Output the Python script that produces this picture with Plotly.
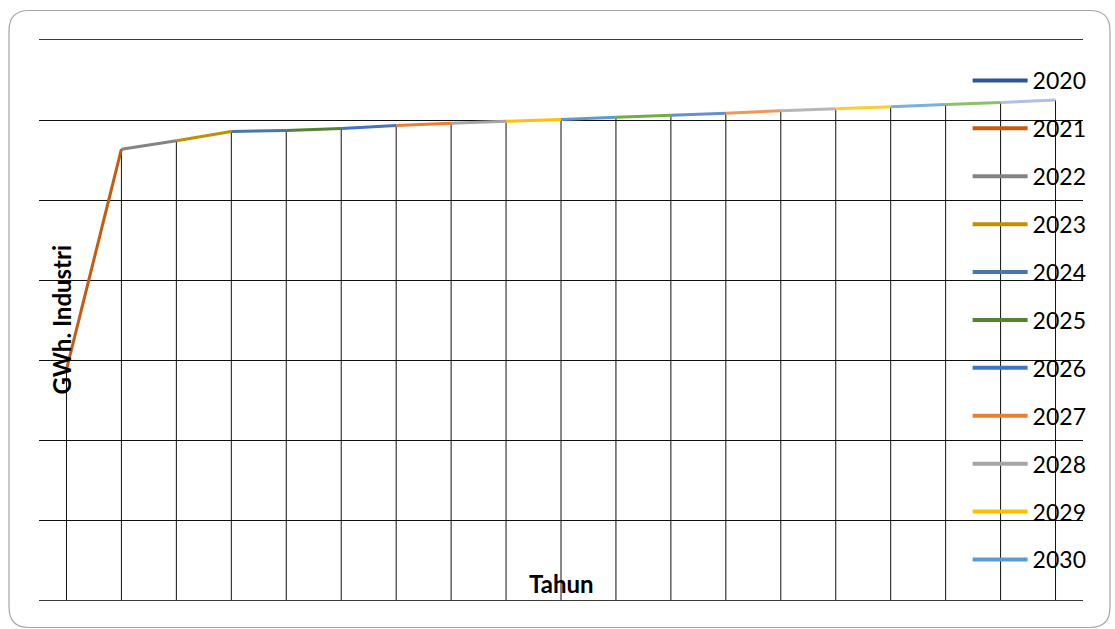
import plotly.graph_objects as go

# ---------------- data ----------------
years = list(range(2020, 2039))
gwh = [2880, 5635, 5740, 5855, 5870, 5895, 5930, 5960, 5985, 6005,
       6035, 6060, 6085, 6115, 6140, 6165, 6195, 6220, 6250]
point_colors = ["#2F5597", "#C55A11", "#848484", "#BF9000", "#4677A8", "#548235",
                "#4472C4", "#ED7D31", "#A5A5A5", "#FFC000", "#5B9BD5", "#70AD47",
                "#698ED0", "#F1975A", "#B7B7B7", "#FFCD33", "#7CAFDD", "#8CC168",
                "#AFBFE6"]
legend_years = years[:11]
y_title = "GWh. Industri"
x_title = "Tahun"

# ---------------- layout geometry (px) ----------------
W, H = 1115, 629
L, R, T, B = 38.5, 1083.5, 40, 600


def fx(px):
    return (px - L) / (R - L)


def fy(py):
    return (B - py) / (B - T)


fig = go.Figure()

# drop lines from each point to the base
dx, dy = [], []
for yr, v in zip(years, gwh):
    dx += [yr, yr, None]
    dy += [0, v, None]
fig.add_trace(go.Scatter(x=dx, y=dy, mode="lines", showlegend=False,
                         line=dict(color="#111111", width=1), hoverinfo="skip"))

# segments, coloured by the end point
for i in range(len(years) - 1):
    fig.add_trace(go.Scatter(x=years[i:i + 2], y=gwh[i:i + 2], mode="lines",
                             showlegend=False,
                             line=dict(color=point_colors[i + 1], width=3)))

# legend entries
for k, yr in enumerate(legend_years):
    fig.add_trace(go.Scatter(x=[None], y=[None], mode="lines", name=str(yr),
                             legendgroup=str(yr),
                             line=dict(color=point_colors[k], width=4)))

lft, rgt, top, bot, r = 8.5, 1110.5, 10.5, 627.5, 20
pts = [
    ("M", (lft + r, top)), ("L", (rgt - r, top)), ("Q", (rgt, top), (rgt, top + r)),
    ("L", (rgt, bot - r)), ("Q", (rgt, bot), (rgt - r, bot)), ("L", (lft + r, bot)),
    ("Q", (lft, bot), (lft, bot - r)), ("L", (lft, top + r)), ("Q", (lft, top), (lft + r, top)),
]
parts = []
for p in pts:
    coords = " ".join(f"{fx(a):.5f},{fy(b):.5f}" for a, b in p[1:])
    parts.append(f"{p[0]}{coords}")
shape_path = " ".join(parts) + " Z"

fig.add_shape(type="path", path=shape_path, xref="paper", yref="paper",
              line=dict(color="#A6A6A6", width=1.2), layer="below")

fig.add_annotation(text=f"<b>{y_title}</b>", xref="paper", yref="paper",
                   x=fx(61), y=fy(319), xanchor="center", yanchor="middle",
                   textangle=-90, showarrow=False,
                   font=dict(family="Lato", size=24, color="#000000"))
fig.add_annotation(text=f"<b>{x_title}</b>", xref="paper", yref="paper",
                   x=fx(562), y=fy(583), xanchor="center", yanchor="middle",
                   showarrow=False,
                   font=dict(family="Lato", size=24, color="#000000"))

fig.update_layout(
    width=W, height=H,
    margin=dict(l=L, r=W - R, t=T, b=H - B, pad=0),
    paper_bgcolor="white", plot_bgcolor="white",
    font=dict(family="Lato", color="#000000"),
    showlegend=True,
    legend=dict(x=fx(968), y=fy(59), xanchor="left", yanchor="top",
                font=dict(family="Lato", size=23, color="#000000"),
                bgcolor="rgba(0,0,0,0)", tracegroupgap=15, itemwidth=55,
                traceorder="grouped"),
    xaxis=dict(range=[2019.5, 2038.5], showgrid=False, zeroline=False,
               showticklabels=False, ticks="", showline=True, mirror=True,
               linecolor="#3a3a3a", linewidth=1),
    yaxis=dict(range=[0, 7000], dtick=1000, tick0=0, showgrid=True,
               gridcolor="#111111", gridwidth=1, zeroline=False,
               showticklabels=False, ticks="", showline=False),
)

fig.write_html("out.html")
